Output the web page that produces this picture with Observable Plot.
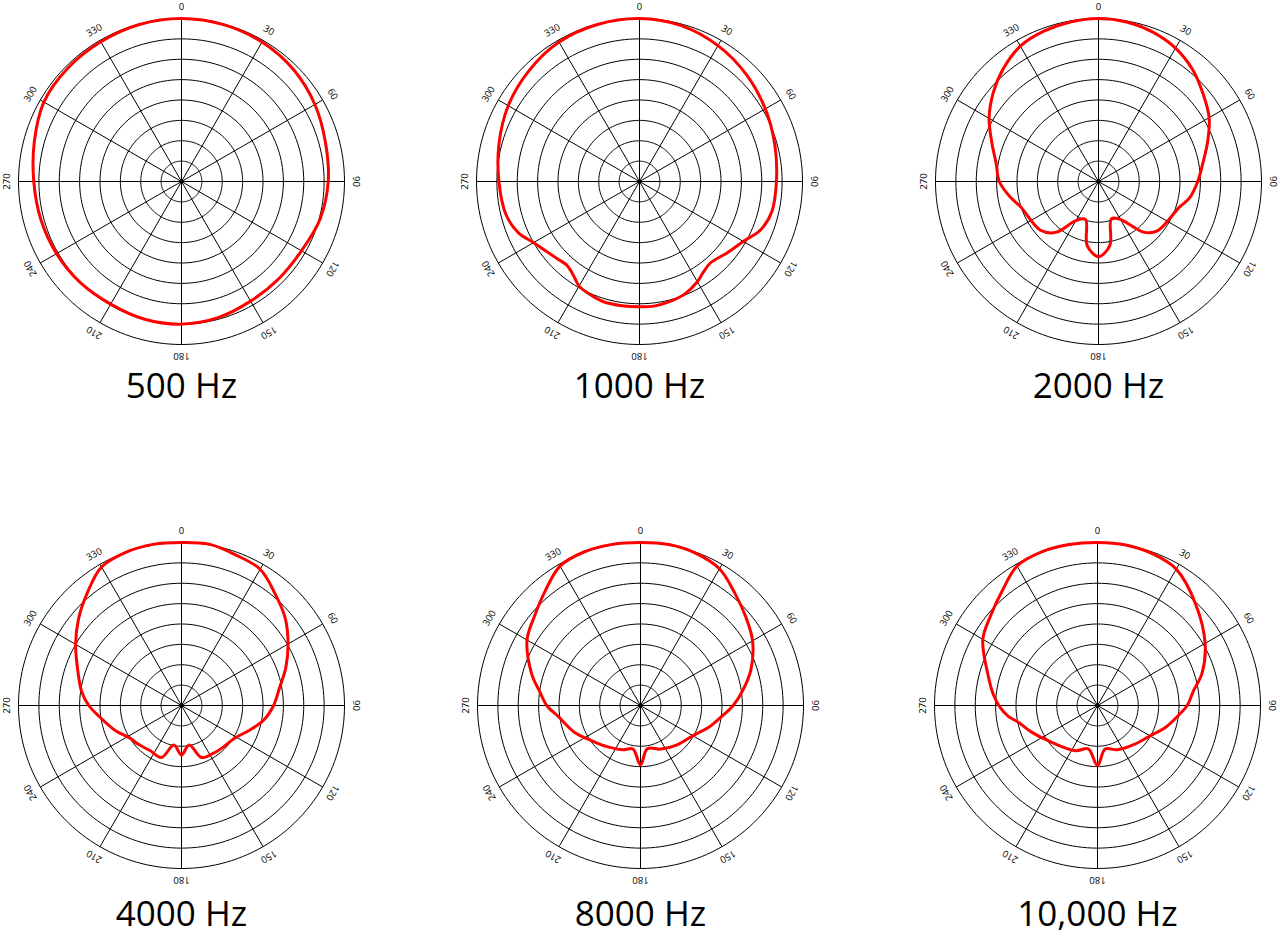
<!DOCTYPE html>
<html>
<head>
<meta charset="utf-8">
<script src="https://cdn.jsdelivr.net/npm/d3@7"></script>
<script src="https://cdn.jsdelivr.net/npm/@observablehq/plot@0.6"></script>
<style>
  body { margin: 0; background: #fff; }
  #page { position: relative; width: 1280px; height: 937px; overflow: hidden; font-family: "Open Sans", sans-serif; }
  .polar { position: absolute; }
  .polar svg { overflow: visible; max-width: none; }
  .title { position: absolute; width: 300px; text-align: center; font-size: 35px; line-height: 35px; color: #000; white-space: nowrap; }
</style>
</head>
<body>
<div id="page"></div>
<script>
// angle in degrees, clockwise from front; level in ring units (outer ring = 8)
const ang500 = [0,15,30,45,60,75,90,105,120,135,150,165,180,195,210,225,240,255,270,285,300,315,330,345];
const lvl500 = [8.0,7.97,7.9,7.77,7.56,7.32,7.2,7.05,6.8,6.75,6.78,6.92,7.0,7.0,6.95,7.02,7.08,7.15,7.25,7.48,7.8,7.88,7.92,7.98];

const ang1000 = [0,15,30,45,60,75,90,103,112,120,129,139,145,150,158,166,173,180,188,197,204,210,215,221,227,234,240,247,256,270,285,300,315,330,345];
const lvl1000 = [8.0,7.92,7.7,7.42,7.13,6.88,6.72,6.66,6.39,5.88,5.55,5.3,5.45,5.68,5.95,6.08,6.15,6.15,6.16,6.16,6.05,5.93,5.64,5.44,5.54,5.75,6.0,6.45,6.75,6.9,7.14,7.44,7.68,7.9,7.98];

const ang2000 = [0,10,20,30,40,50,60,70,80,90,100,108,130,138,151,161,170,180,190,199,210,220,230,252,260,270,280,290,300,310,320,330,340,350];
const lvl2000 = [8.0,7.95,7.8,7.56,7.18,6.7,6.27,5.7,5.2,4.87,4.55,4.15,3.77,3.36,2.1,1.94,3.19,3.69,3.19,1.97,2.22,3.26,3.72,4.02,4.4,4.87,5.1,5.57,6.2,6.75,7.25,7.67,7.85,7.95];

const ang4000 = [0,10,20,30,40,50,60,70,80,90,100,110,122,134,146,159,169,180,191,201,215,228,238,250,262,270,278,287,300,310,320,330,340,350];
const lvl4000 = [8.0,8.03,7.85,7.72,7.15,6.65,6.04,5.45,4.88,4.52,4.1,3.55,3.05,2.9,2.82,2.73,1.97,2.43,1.97,2.73,2.7,2.85,3.0,3.5,4.05,4.55,4.95,5.3,6.0,6.6,7.2,7.85,8.0,8.03];

const ang8000 = [0,10,20,30,40,50,60,72,82,90,98,108,119,137,155,171,180,190,201,219,235,248,262,270,278,286,300,310,320,330,340,350];
const lvl8000 = [8.0,8.02,7.95,7.75,7.2,6.75,6.35,5.7,5.05,4.55,4.0,3.5,3.0,2.64,2.36,2.15,2.92,2.16,2.33,2.6,2.98,3.5,4.05,4.6,5.0,5.55,6.43,6.8,7.3,7.9,8.03,8.03];

const ang10000 = [0,10,20,30,44,60,73,81,90,97,108,120,136,156,170,180,192,206,234,248,258,263,269,276,286,300,310,320,330,340,350];
const lvl10000 = [8.0,8.0,7.92,7.73,6.93,6.1,5.36,4.78,4.4,4.0,3.5,2.98,2.64,2.38,2.17,2.95,2.18,2.47,2.96,3.49,3.97,4.41,4.79,5.14,5.6,6.5,6.85,7.3,7.9,8.02,8.02];

const titles = ["500 Hz", "1000 Hz", "2000 Hz", "4000 Hz", "8000 Hz", "10,000 Hz"];
const ringLevels = [1, 2, 3, 4, 5, 6, 7, 8];
const spokeAngles = [0, 30, 60, 90, 120, 150, 180, 210, 240, 270, 300, 330];
const tickLabels = ["0", "30", "60", "90", "120", "150", "180", "210", "240", "270", "300", "330"];

// layout: each polar box is padded so the rim labels sit inside the svg
const pad = 10;
const size = 362 + 2 * pad;
const ppu = 20.375;        // pixels per ring unit
const R = (size / 2) / ppu;
const labelR = 174.5 / ppu;

// left/top give the box of the 362px polar area (center at +181)
const charts = [
  {title: titles[0], angles: ang500,   levels: lvl500,   left: 0,   top: 0,   titleTop: 367},
  {title: titles[1], angles: ang1000,  levels: lvl1000,  left: 458, top: 0,   titleTop: 367},
  {title: titles[2], angles: ang2000,  levels: lvl2000,  left: 917, top: 0,   titleTop: 367},
  {title: titles[3], angles: ang4000,  levels: lvl4000,  left: 0,   top: 524, titleTop: 895},
  {title: titles[4], angles: ang8000,  levels: lvl8000,  left: 459, top: 524, titleTop: 895},
  {title: titles[5], angles: ang10000, levels: lvl10000, left: 916, top: 524, titleTop: 895}
];

const rad = (a) => a * Math.PI / 180;
const px = (a, r) => r * Math.sin(rad(a));
const py = (a, r) => r * Math.cos(rad(a));

const ringPts = ringLevels.flatMap((r) => d3.range(0, 360, 2).map((a) => ({r, a})));

const page = document.getElementById("page");

charts.forEach((c) => {
  const response = c.angles.map((a, i) => ({a, r: c.levels[i]}));

  const plot = Plot.plot({
    width: size,
    height: size,
    margin: 0,
    x: {domain: [-R, R], axis: null},
    y: {domain: [-R, R], axis: null},
    style: {fontFamily: "Open Sans", background: "transparent", overflow: "visible", maxWidth: "none"},
    marks: [
      Plot.line(ringPts, {x: (d) => px(d.a, d.r), y: (d) => py(d.a, d.r), z: "r", curve: "linear-closed", stroke: "#000", strokeWidth: 1}),
      Plot.link(spokeAngles, {x1: () => 0, y1: () => 0, x2: (a) => px(a, 8), y2: (a) => py(a, 8), stroke: "#000", strokeWidth: 1}),
      Plot.text(spokeAngles, {x: (a) => px(a, labelR), y: (a) => py(a, labelR), text: (a, i) => tickLabels[i], rotate: (a) => a, fontSize: 9.5, fill: "#000", textAnchor: "middle", lineAnchor: "middle"}),
      Plot.line(response, {x: (d) => px(d.a, d.r), y: (d) => py(d.a, d.r), curve: "catmull-rom-closed", stroke: "#ff0000", strokeWidth: 3}),
      Plot.dot([0], {x: () => 0, y: () => 0, r: 2, fill: "#000", stroke: null})
    ]
  });

  const box = document.createElement("div");
  box.className = "polar";
  box.style.left = (c.left - pad) + "px";
  box.style.top = (c.top - pad) + "px";
  box.style.width = size + "px";
  box.style.height = size + "px";
  box.appendChild(plot);
  page.appendChild(box);

  const t = document.createElement("div");
  t.className = "title";
  t.textContent = c.title;
  t.style.left = (c.left + 181.5 - 150) + "px";
  t.style.top = c.titleTop + "px";
  page.appendChild(t);
});
</script>
</body>
</html>
